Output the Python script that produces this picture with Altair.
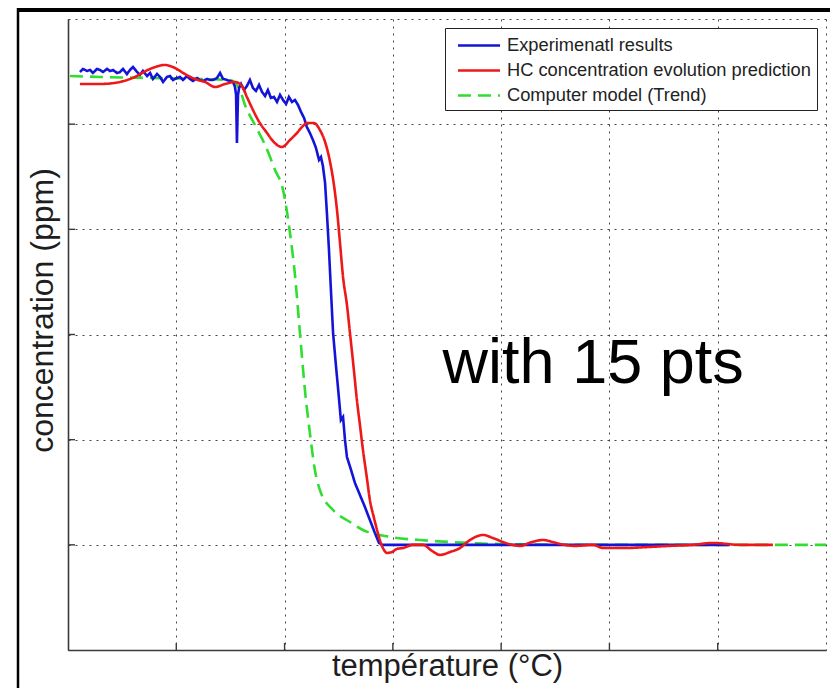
import altair as alt
import pandas as pd

# Experimental measurements (temperature, concentration)
exp_T = [5.5, 6.9, 8.8, 10.2, 11.5, 13.4, 14.8, 16.2, 18.0, 19.4, 20.8, 22.6, 24.0, 25.4,
         27.2, 28.6, 30.0, 31.9, 33.2, 34.6, 36.5, 37.9, 39.2, 41.1, 42.5, 43.9, 45.7, 47.1,
         48.5, 50.3, 51.7, 53.1, 54.9, 56.3, 57.7, 59.6, 60.9, 62.3, 64.2, 65.6, 66.9, 68.8,
         70.2, 71.6, 73.4, 74.8, 76.2, 77.1, 77.6, 78.0, 78.5, 79.0, 79.9, 81.3, 82.6, 84.0,
         85.4, 86.8, 88.2, 89.6, 91.0, 92.3, 93.7, 95.1, 96.5, 97.9, 99.3, 100.7, 102.0, 103.4,
         104.8, 106.2, 107.6, 109.0, 110.3, 111.7, 113.1, 114.5, 115.9, 116.8, 117.7, 118.7,
         119.6, 120.5, 121.4, 122.4, 123.7, 125.1, 126.0, 127.0, 127.9, 128.8, 130.7, 132.5,
         134.8, 137.1, 139.4, 141.7, 143.6, 145.0, 153.3, 176.4, 199.5, 227.2, 245.5, 268.7,
         291.8, 305.6]
exp_C = [549.6, 552.5, 550.6, 551.5, 548.7, 552.5, 551.5, 549.6, 552.5, 550.6, 551.5, 548.7,
         549.6, 552.5, 547.7, 551.5, 554.4, 549.6, 546.8, 550.6, 545.8, 548.7, 543.0, 547.7,
         544.9, 540.1, 544.9, 545.8, 542.0, 543.9, 544.9, 542.0, 545.8, 543.0, 541.1, 543.9,
         542.0, 541.1, 543.0, 542.0, 542.0, 543.9, 548.7, 543.0, 542.0, 541.1, 540.1, 535.4,
         527.8, 482.1, 527.8, 534.4, 538.2, 532.5, 536.3, 542.0, 534.4, 531.6, 537.3, 530.6,
         526.8, 532.5, 524.9, 525.9, 521.1, 527.8, 523.0, 519.2, 525.9, 521.1, 523.0, 518.3,
         511.6, 505.9, 497.3, 491.6, 485.0, 477.4, 466.0, 468.8, 460.2, 444.1, 413.7, 380.4,
         342.3, 301.4, 271.0, 239.6, 218.7, 221.6, 199.7, 183.5, 171.2, 158.8, 147.4, 136.0,
         123.6, 111.3, 101.8, 100.0, 100.0, 100.0, 100.0, 100.0, 100.0, 100.0, 100.0, 100.0]

# HC concentration evolution prediction
pred_T = [5.5, 14.8, 24.0, 30.9, 37.9, 44.8, 49.4, 54.0, 58.6, 63.3, 67.9, 72.5, 77.1, 80.3,
          82.6, 85.4, 88.6, 91.9, 94.6, 98.8, 102.5, 105.7, 108.5, 110.8, 113.6, 116.3, 118.7,
          121.0, 122.8, 124.2, 125.6, 127.0, 128.8, 130.2, 132.0, 133.4, 134.8, 136.2, 138.0,
          139.4, 141.3, 142.7, 144.0, 145.4, 147.3, 149.6, 151.9, 154.7, 159.3, 163.9, 168.1,
          171.8, 176.4, 181.0, 185.6, 191.6, 196.2, 200.8, 205.0, 208.7, 214.2, 219.3, 223.9,
          227.2, 234.1, 242.4, 247.0, 257.2, 268.7, 277.9, 288.6, 297.8, 310.3, 325.5]
pred_C = [538.2, 538.2, 540.1, 544.9, 552.5, 556.3, 553.4, 547.7, 543.0, 540.1, 535.4, 538.2,
          540.1, 536.3, 525.9, 513.5, 501.1, 491.6, 484.0, 478.3, 485.0, 491.6, 498.3, 501.1,
          501.1, 494.5, 483.1, 464.1, 442.2, 418.4, 387.0, 354.7, 328.1, 301.4, 266.3, 237.7,
          214.0, 190.2, 163.6, 142.6, 125.5, 114.1, 104.6, 97.0, 92.3, 93.2, 96.1, 97.0, 100.0,
          100.0, 94.2, 90.4, 93.2, 97.0, 104.6, 109.4, 106.5, 102.7, 100.0, 99.0, 102.7, 104.6,
          102.7, 100.8, 99.0, 100.0, 97.0, 97.0, 98.0, 99.0, 100.0, 101.8, 100.0, 100.0]

# Computer model trend
model_T = [0.9, 14.8, 37.9, 60.9, 74.8, 79.4, 81.7, 86.3, 91.0, 95.6, 99.3, 102.5, 104.8,
           107.1, 109.4, 111.7, 114.0, 116.3, 122.4, 130.2, 136.2, 148.7, 162.5, 176.4, 199.5,
           245.5, 291.8, 350.0]
model_C = [545.8, 544.9, 543.9, 543.0, 542.0, 532.5, 518.3, 499.3, 480.2, 456.5, 437.4, 396.5,
           356.6, 301.4, 247.2, 206.3, 171.2, 152.2, 133.1, 121.7, 114.1, 107.5, 104.6, 102.7,
           100.8, 100.0, 100.0, 100.0]

series_names = ["Experimenatl results", "HC concentration evolution prediction",
                "Computer model (Trend)"]
series_colors = ["#1414d8", "#ee1818", "#30dd30"]
series_dashes = [[1, 0], [1, 0], [13, 7]]

x_ticks = [0, 50, 100, 150, 200, 250, 300, 350]
y_ticks = [0, 100, 200, 300, 400, 500, 600]

annot_T = [242.5]
annot_C = [254.0]
annot_text = ["with 15 pts"]

FONT = "Liberation Sans"

frames = []
for name, ts, cs in [(series_names[2], model_T, model_C),
                     (series_names[0], exp_T, exp_C),
                     (series_names[1], pred_T, pred_C)]:
    frames.append(pd.DataFrame({"T": ts, "C": cs, "series": name}))
df = pd.concat(frames, ignore_index=True)

x_scale = alt.Scale(domain=[0, 350], nice=False, zero=False)
y_scale = alt.Scale(domain=[0, 600], nice=False, zero=False)

x_axis = alt.Axis(values=x_ticks, labels=False, ticks=False, grid=True,
                  title="température (°C)", titleFont=FONT, titleFontSize=31,
                  titleFontWeight="normal", titleColor="#1e1e1e", titlePadding=1,
                  domainColor="#3a3a3a", domainWidth=1.6,
                  gridColor="#444444", gridDash=[2, 5], gridWidth=1)
y_axis = alt.Axis(values=y_ticks, labels=False, ticks=False, grid=True,
                  title="concentration (ppm)", titleFont=FONT, titleFontSize=32,
                  titleFontWeight="normal", titleColor="#1e1e1e", titlePadding=9,
                  titleY=291,
                  domainColor="#3a3a3a", domainWidth=1.6,
                  gridColor="#444444", gridDash=[2, 5], gridWidth=1)

# wide horizontal line sample for each legend entry
legend = alt.Legend(title=None, orient="none", legendX=377, legendY=9,
                    symbolType="M-2,0H2", symbolSize=441, symbolStrokeWidth=2.6,
                    symbolOffset=16.5,
                    labelFont=FONT, labelFontSize=18.3, labelColor="#222222",
                    labelOffset=16, rowPadding=4, padding=5.5,
                    strokeColor="#222222", fillColor="white", labelLimit=400)

def line_layer(name, interp):
    return alt.Chart(df).transform_filter(alt.datum.series == name).mark_line(
        strokeWidth=2.6, interpolate=interp, clip=True
    ).encode(
        x=alt.X("T:Q", scale=x_scale, axis=x_axis),
        y=alt.Y("C:Q", scale=y_scale, axis=y_axis),
        color=alt.Color("series:N", scale=alt.Scale(domain=series_names, range=series_colors),
                        legend=legend),
        strokeDash=alt.StrokeDash("series:N",
                                  scale=alt.Scale(domain=series_names, range=series_dashes),
                                  legend=legend),
        order="T:Q",
    )

model_line = line_layer(series_names[2], "monotone")
exp_line = line_layer(series_names[0], "linear")
pred_line = line_layer(series_names[1], "monotone")

# small inward tick marks on the bottom and left axes
xtick_df = pd.DataFrame({"T": x_ticks[1:-1]})
ytick_df = pd.DataFrame({"C": y_ticks[1:-1]})
x_inner_ticks = alt.Chart(xtick_df).mark_rule(color="#3a3a3a", strokeWidth=1.4).encode(
    x=alt.X("T:Q", scale=x_scale), y=alt.value(631), y2=alt.value(624))
y_inner_ticks = alt.Chart(ytick_df).mark_rule(color="#3a3a3a", strokeWidth=1.4).encode(
    y=alt.Y("C:Q", scale=y_scale), x=alt.value(0), x2=alt.value(7))

annot = alt.Chart(pd.DataFrame({"T": annot_T, "C": annot_C, "txt": annot_text})).mark_text(
    font=FONT, fontSize=63, color="black", align="center", baseline="alphabetic"
).encode(x=alt.X("T:Q", scale=x_scale), y=alt.Y("C:Q", scale=y_scale), text="txt:N")

# black figure frame along the top and left edges
frame_top = alt.Chart(pd.DataFrame({"k": [0]})).mark_rule(color="black", strokeWidth=4).encode(
    x=alt.value(-51), x2=alt.value(765), y=alt.value(-9))
frame_left = alt.Chart(pd.DataFrame({"k": [0]})).mark_rule(color="black", strokeWidth=2.5).encode(
    x=alt.value(-50), y=alt.value(-11), y2=alt.value(680))

chart = alt.layer(
    model_line, exp_line, pred_line, x_inner_ticks, y_inner_ticks, annot, frame_top, frame_left
).properties(
    width=758, height=631,
    padding={"left": 68, "top": 19, "right": 4, "bottom": 38},
    autosize=alt.AutoSizeParams(type="none"),
    background="white",
).configure_view(stroke=None)

chart.save("out.html", embed_options={"renderer": "svg", "actions": False})
